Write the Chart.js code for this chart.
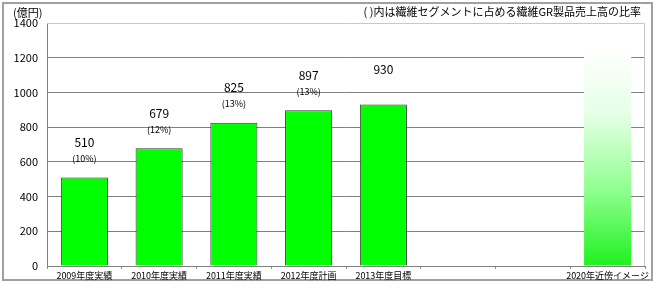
<!DOCTYPE html>
<html>
<head>
<meta charset="utf-8">
<script src="https://cdn.jsdelivr.net/npm/chart.js@4"></script>
<style>
  html, body { margin: 0; padding: 0; background: #fff; }
  #wrap { width: 655px; height: 282px; }
</style>
</head>
<body>
<div id="wrap"><canvas id="salesChart" width="655" height="282"></canvas></div>
<script>
const categories = ["2009年度実績", "2010年度実績", "2011年度実績", "2012年度計画", "2013年度目標", "", "", "2020年近傍イメージ"];
const sales = [510, 679, 825, 897, 930, null, null, 1250];
const shares = ["(10%)", "(12%)", "(13%)", "(13%)", null, null, null, null];
const yTicks = [0, 200, 400, 600, 800, 1000, 1200, 1400];

const FONT = "'Noto Sans CJK JP', 'Noto Sans', sans-serif";

// outer frame, plot border, header texts and value labels
const decorations = {
  id: "decorations",
  beforeDraw(chart) {
    const c = chart.ctx;
    c.save();
    c.fillStyle = "#fff";
    c.fillRect(0, 0, chart.width, chart.height);
    c.strokeStyle = "#a0a0a0";
    c.lineWidth = 2;
    c.strokeRect(3, 3, chart.width - 6, chart.height - 5);
    c.restore();
  },
  afterDraw(chart) {
    const c = chart.ctx;
    const a = chart.chartArea;
    c.save();
    c.strokeStyle = "#c8c8c8";
    c.lineWidth = 1;
    c.beginPath();
    c.moveTo(a.left, a.top + 0.5);
    c.lineTo(a.right - 0.5, a.top + 0.5);
    c.lineTo(a.right - 0.5, a.bottom);
    c.stroke();

    c.fillStyle = "#000";
    c.font = "11px " + FONT;
    c.textBaseline = "middle";
    c.textAlign = "left";
    c.fillText("(億円)", 13, 13);
    c.textAlign = "right";
    c.fillText("( )内は繊維セグメントに占める繊維GR製品売上高の比率", 641, 12);

    const meta = chart.getDatasetMeta(0);
    c.textAlign = "center";
    meta.data.forEach((bar, i) => {
      if (sales[i] == null || i === 7) return;
      c.font = "12px " + FONT;
      c.fillText(String(sales[i]), bar.x, bar.y - 35);
      if (shares[i]) {
        c.font = "9px " + FONT;
        c.fillText(shares[i], bar.x, bar.y - 19);
      }
    });
    c.restore();
  }
};

function barColor(context) {
  const i = context.dataIndex;
  if (i !== 7) return "#00ff00";
  const chart = context.chart;
  const area = chart.chartArea;
  if (!area) return "#60ff60";
  const y = chart.scales.y;
  const g = chart.ctx.createLinearGradient(0, y.getPixelForValue(sales[7]), 0, area.bottom);
  g.addColorStop(0, "#ffffff");
  g.addColorStop(0.3, "#e6ffe6");
  g.addColorStop(0.65, "#90ff90");
  g.addColorStop(1, "#20f020");
  return g;
}

new Chart(document.getElementById("salesChart"), {
  type: "bar",
  data: {
    labels: categories,
    datasets: [{
      data: sales,
      backgroundColor: barColor,
      borderColor: (ctx) => ctx.dataIndex === 7 ? "rgba(0,0,0,0)" : "#333333",
      borderWidth: (ctx) => ctx.dataIndex === 7 ? 0 : 1,
      categoryPercentage: 1,
      barPercentage: 0.63
    }]
  },
  options: {
    responsive: false,
    animation: false,
    layout: { padding: { top: 23, right: 10, left: 0, bottom: 0 } },
    plugins: {
      legend: { display: false },
      tooltip: { enabled: false }
    },
    scales: {
      x: {
        afterFit(scale) { scale.height = 16; },
        grid: {
          offset: true,
          drawOnChartArea: false,
          tickLength: 3,
          color: "#909090"
        },
        border: { color: "#808080" },
        ticks: {
          color: "#000",
          font: { family: FONT, size: 9 },
          padding: 1,
          maxRotation: 0,
          autoSkip: false
        }
      },
      y: {
        min: 0,
        max: 1400,
        afterFit(scale) { scale.width = 47; },
        afterBuildTicks(scale) { scale.ticks = yTicks.map(v => ({ value: v })); },
        grid: {
          drawTicks: false,
          color: (ctx) => ctx.tick && ctx.tick.value === 1400 ? "rgba(0,0,0,0)" : "#808080"
        },
        border: { color: "#808080" },
        ticks: {
          color: "#000",
          font: { family: FONT, size: 11 },
          padding: 9,
          callback: (v) => String(v)
        }
      }
    }
  },
  plugins: [decorations]
});
</script>
</body>
</html>
